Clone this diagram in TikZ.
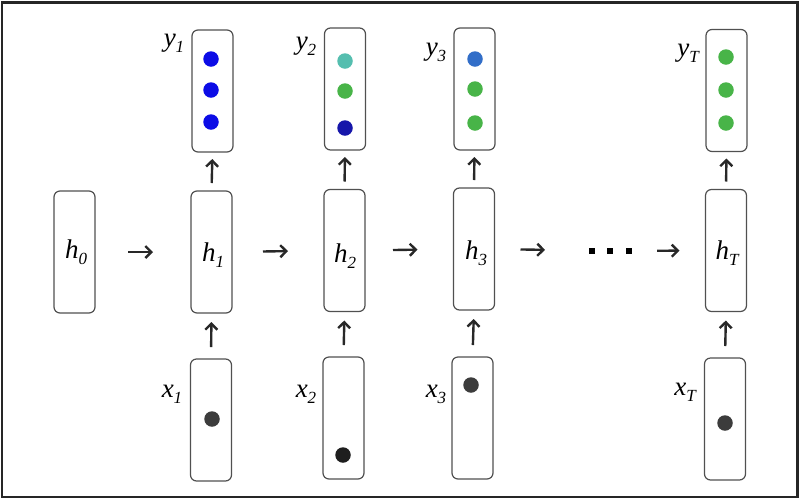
\documentclass[tikz,border=0pt]{standalone}
\usepackage{fontspec}
\setmainfont{Liberation Serif}
\usetikzlibrary{arrows.meta}
\definecolor{boxgray}{RGB}{80,80,80}
\definecolor{arrgray}{RGB}{40,40,40}
\definecolor{cblue}{RGB}{12,12,230}
\definecolor{cteal}{RGB}{85,190,175}
\definecolor{cgreen}{RGB}{72,180,72}
\definecolor{cdblue}{RGB}{22,22,170}
\definecolor{csteel}{RGB}{50,110,200}
\definecolor{cdark}{RGB}{60,60,60}
\definecolor{cdarker}{RGB}{30,30,30}
\newcommand\subl[2]{{\itshape #1}\raisebox{-6pt}{\fontsize{17}{17}\selectfont\itshape #2}}
\tikzset{
  vecbox/.style={draw=boxgray, line width=1.2pt, rounded corners=6pt,
    minimum width=41pt, minimum height=122pt, inner sep=0pt, outer sep=0pt,
    font=\fontsize{27}{27}\selectfont},
  lbl/.style={inner sep=0pt, font=\fontsize{27}{27}\selectfont},
  arr/.style={draw=arrgray, line width=2.4pt, -{Straight Barb[length=6pt,width=12pt]}},
  unit/.style={circle, inner sep=0pt, minimum size=15.5pt},
  sq/.style={fill=black, inner sep=0pt, minimum size=6.5pt}
}
\begin{document}
\begin{tikzpicture}[x=1pt,y=-1pt]
\useasboundingbox (0,0) rectangle (800,499);
\draw[line width=2.5pt, black!85] (2,2.5) rectangle (797.5,497);

% hidden state boxes
\node[vecbox] (h0) at (74.5,252) {};
\node[vecbox] (h1) at (211.5,252) {};
\node[vecbox] (h2) at (344.5,250.5) {};
\node[vecbox] (h3) at (474,249) {};
\node[vecbox] (hT) at (726,250.5) {};

% hidden state labels
\node[lbl] (lh0) at (76,252) {\subl{h}{0}};
\node[lbl] (lh1) at (213,255) {\subl{h}{1}};
\node[lbl] (lh2) at (345,256) {\subl{h}{2}};
\node[lbl] (lh3) at (476,253) {\subl{h}{3}};
\node[lbl] (lhT) at (727,253) {\subl{h}{T}};

% output boxes
\node[vecbox] (y1) at (212.5,91) {};
\node[vecbox] (y2) at (345,89) {};
\node[vecbox] (y3) at (474.5,89) {};
\node[vecbox] (yT) at (726.5,90.5) {};

% input boxes
\node[vecbox] (x1) at (211,420) {};
\node[vecbox] (x2) at (343.5,418) {};
\node[vecbox] (x3) at (472.5,418) {};
\node[vecbox] (xT) at (725,419) {};

% labels
\node[lbl] (ly1) at (174,43) {\subl{y}{1}};
\node[lbl] (ly2) at (306,46) {\subl{y}{2}};
\node[lbl] (ly3) at (436,52) {\subl{y}{3}};
\node[lbl] (lyT) at (688,53) {\subl{y}{T}};
\node[lbl] (lx1) at (172,394) {\subl{x}{1}};
\node[lbl] (lx2) at (306,394) {\subl{x}{2}};
\node[lbl] (lx3) at (436,394) {\subl{x}{3}};
\node[lbl] (lxT) at (685,392) {\subl{x}{T}};

% output units
\node[unit, fill=cblue] (y1a) at (211,59) {};
\node[unit, fill=cblue] (y1b) at (211,90) {};
\node[unit, fill=cblue] (y1c) at (211,122) {};
\node[unit, fill=cteal] (y2a) at (345,61) {};
\node[unit, fill=cgreen] (y2b) at (345,91) {};
\node[unit, fill=cdblue] (y2c) at (345,128) {};
\node[unit, fill=csteel] (y3a) at (475,59) {};
\node[unit, fill=cgreen] (y3b) at (475,89) {};
\node[unit, fill=cgreen] (y3c) at (475,123) {};
\node[unit, fill=cgreen] (yTa) at (726,57) {};
\node[unit, fill=cgreen] (yTb) at (726,90) {};
\node[unit, fill=cgreen] (yTc) at (726,123) {};

% input units
\node[unit, fill=cdark] (x1a) at (212,419) {};
\node[unit, fill=cdarker] (x2a) at (343,455) {};
\node[unit, fill=cdark] (x3a) at (471,385) {};
\node[unit, fill=cdark] (xTa) at (725,423) {};

% ellipsis
\node[sq] (d1) at (592,251) {};
\node[sq] (d2) at (610,251) {};
\node[sq] (d3) at (629,251) {};
\coordinate (dots) at (610,251);

% vertical arrows
\foreach \c in {1,2,3,T} {
  \draw[arr, shorten <=8pt, shorten >=7pt] (h\c.north) -- (y\c.south);
  \draw[arr, shorten <=12pt, shorten >=9pt] (x\c.north) -- (h\c.south);
}

% horizontal arrows
\draw[arr, shorten <=33pt, shorten >=38pt] (h0.east) -- (h1.west);
\draw[arr, shorten <=31pt, shorten >=36pt] (h1.east) -- (h2.west);
\draw[arr, shorten <=28pt, shorten >=36pt] (h2.east) -- (h3.west);
\draw[arr, shorten <=26pt, shorten >=65pt] (h3.east) -- (dots);
\draw[arr, shorten <=47pt, shorten >=26pt] (dots) -- (hT.west);
\end{tikzpicture}
\end{document}
